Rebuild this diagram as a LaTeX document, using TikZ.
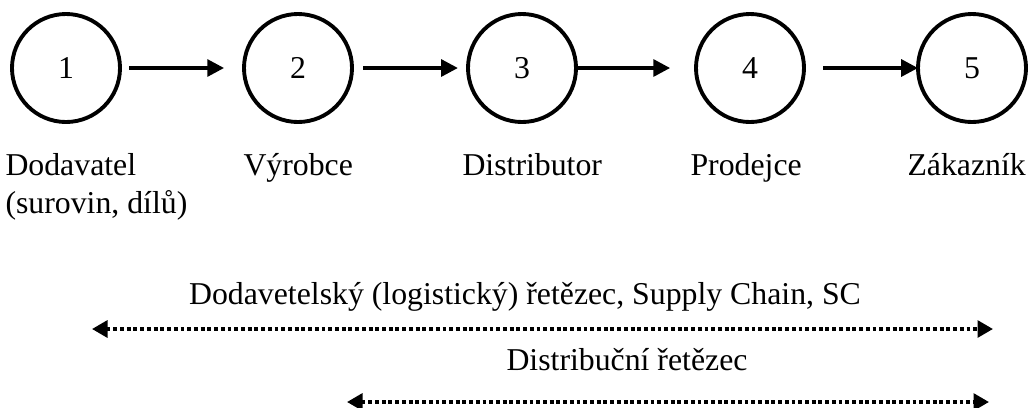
\documentclass[tikz,border=0pt]{standalone}
\usepackage{fontspec}
\setmainfont{Liberation Serif}
\usepackage{tikz}
\usetikzlibrary{arrows.meta}
\tikzset{
  StageNode/.style = {circle, draw = black, line width = 1.5pt, minimum size = 41.8pt, inner sep = 0pt, outer sep = 0pt, font = \fontsize{12.3}{14.7}\selectfont},
  LabelNode/.style = {inner sep = 0pt, align = left, font = \fontsize{12.3}{14.7}\selectfont},
  FlowArrow/.style = {-{Triangle[length=6.5pt, width=6.5pt]}, line width = 1.4pt},
  ChainArrow/.style = {{Triangle[length=6pt, width=6.5pt]}-{Triangle[length=6pt, width=6.5pt]}, line width = 1.4pt, dash pattern = on 1.5pt off 1.1pt}
}
\begin{document}
\begin{tikzpicture}[x=0.387pt, y=-0.387pt]
  \useasboundingbox (0,0) rectangle (1031,407);
  % stages
  \node [StageNode] (n1) at (66,68) {1};
  \node [StageNode] (n2) at (298,68) {2};
  \node [StageNode] (n3) at (522,68) {3};
  \node [StageNode] (n4) at (750,68) {4};
  \node [StageNode] (n5) at (972,68) {5};
  \draw [FlowArrow, shorten <= 3.5pt, shorten >= 7.7pt] (n1) -- (n2);
  \draw [FlowArrow, shorten <= 4.3pt, shorten >= 3.9pt] (n2) -- (n3);
  \draw [FlowArrow, shorten <= 0.4pt, shorten >= 10pt] (n3) -- (n4);
  \draw [FlowArrow, shorten <= 7.4pt] (n4) -- (n5);
  % names
  \node [LabelNode, anchor = base west] (l1) at (5,213) {Dodavatel\\(surovin, dílů)};
  \node [LabelNode, anchor = base west] (l2) at (243,175) {Výrobce};
  \node [LabelNode, anchor = base west] (l3) at (462,175) {Distributor};
  \node [LabelNode, anchor = base west] (l4) at (690,175) {Prodejce};
  \node [LabelNode, anchor = base west] (l5) at (907,175) {Zákazník};
  % chains
  \node [LabelNode, anchor = base] (sc) at (525,304) {Dodavetelský (logistický) řetězec, Supply Chain, SC};
  \coordinate (scL) at (92,329);
  \coordinate (scR) at (993,329);
  \draw [ChainArrow] (scL) -- (scR);
  \node [LabelNode, anchor = base west] (dc) at (506,370) {Distribuční řetězec};
  \coordinate (dcL) at (347,402);
  \coordinate (dcR) at (989,402);
  \draw [ChainArrow] (dcL) -- (dcR);
\end{tikzpicture}
\end{document}
